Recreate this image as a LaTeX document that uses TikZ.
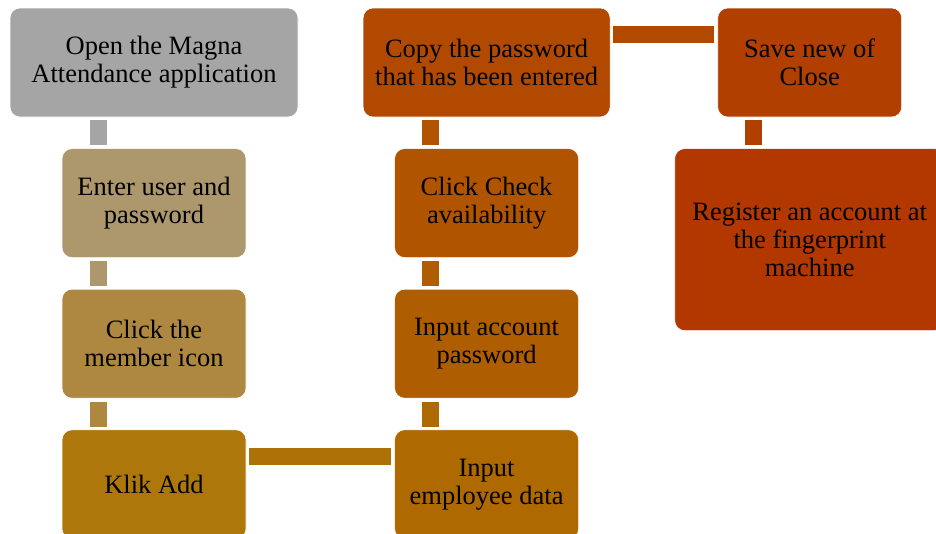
\documentclass[tikz,border=0pt]{standalone}
\usepackage{fontspec}
\setmainfont{Liberation Serif}
\usepackage{xcolor}
\usepackage{tikz}
\usetikzlibrary{positioning}

\definecolor{stepgray}{HTML}{A5A5A5}
\definecolor{stepsand}{HTML}{AD976D}
\definecolor{stepochre}{HTML}{AE8840}
\definecolor{stepgold}{HTML}{AE770B}
\definecolor{stepamber}{HTML}{AE6900}
\definecolor{steporange}{HTML}{AE5E00}
\definecolor{steprust}{HTML}{B05400}
\definecolor{stepbrick}{HTML}{B14A00}
\definecolor{stepred}{HTML}{B14000}
\definecolor{stepdeep}{HTML}{B33800}

\newcommand{\boxfont}{\fontsize{26.5}{28}\selectfont}

\tikzset{
  stepbox/.style={
    rectangle,
    rounded corners=10pt,
    draw=white,
    line width=0.6pt,
    inner sep=0pt,
    minimum width=184pt,
    minimum height=109pt,
    align=center,
    font=\boxfont,
    text=black,
  },
  link/.style={
    line width=17pt,
    shorten <=3pt,
    shorten >=3pt,
  },
}

\begin{document}
\begin{tikzpicture}[x=1pt, y=-1pt, node distance=31pt]

  \useasboundingbox (0,0) rectangle (936,533);

  % Define nodes
  \node[stepbox, fill=stepgray, minimum width=288pt] (open) at (154,62.5) {Open the Magna\\Attendance application};
  \node[stepbox, fill=stepsand, below=of open] (enter) {Enter user and\\password};
  \node[stepbox, fill=stepochre, below=of enter] (member) {Click the\\member icon};
  \node[stepbox, fill=stepgold, below=of member] (add) {Klik Add};

  \node[stepbox, fill=stepamber, right=148pt of add] (employee) {Input\\employee data};
  \node[stepbox, fill=steporange, above=of employee] (account) {Input account\\password};
  \node[stepbox, fill=steprust, above=of account] (check) {Click Check\\availability};
  \node[stepbox, fill=stepbrick, above=of check, minimum width=247pt] (copy) {Copy the password\\that has been entered};

  \node[stepbox, fill=stepred, right=107pt of copy] (save) {Save new of\\Close};
  \node[stepbox, fill=stepdeep, below=of save, minimum width=270pt, minimum height=182pt] (register) {Register an account at\\the fingerprint\\machine};

  % Connector points
  \coordinate (leftbar) at ([xshift=36.5pt]enter.north west);
  \coordinate (midbar) at ([xshift=36.5pt]employee.north west);
  \coordinate (rightbar) at ([xshift=36.5pt]save.south west);

  % Connect nodes
  \draw[link, stepgray] (leftbar |- open.south) -- (leftbar |- enter.north);
  \draw[link, stepsand] (leftbar |- enter.south) -- (leftbar |- member.north);
  \draw[link, stepochre] (leftbar |- member.south) -- (leftbar |- add.north);
  \draw[link, stepgold!60!stepamber] ([yshift=-27pt]add.north east) -- ([yshift=-27pt]employee.north west);

  \draw[link, stepamber] (midbar |- employee.north) -- (midbar |- account.south);
  \draw[link, steporange] (midbar |- account.north) -- (midbar |- check.south);
  \draw[link, steprust] (midbar |- check.north) -- (midbar |- copy.south);
  \draw[link, stepbrick] ([yshift=-27pt]copy.north east) -- ([yshift=-27pt]save.north west);

  \draw[link, stepred] (rightbar |- save.south) -- (rightbar |- register.north);

\end{tikzpicture}
\end{document}
